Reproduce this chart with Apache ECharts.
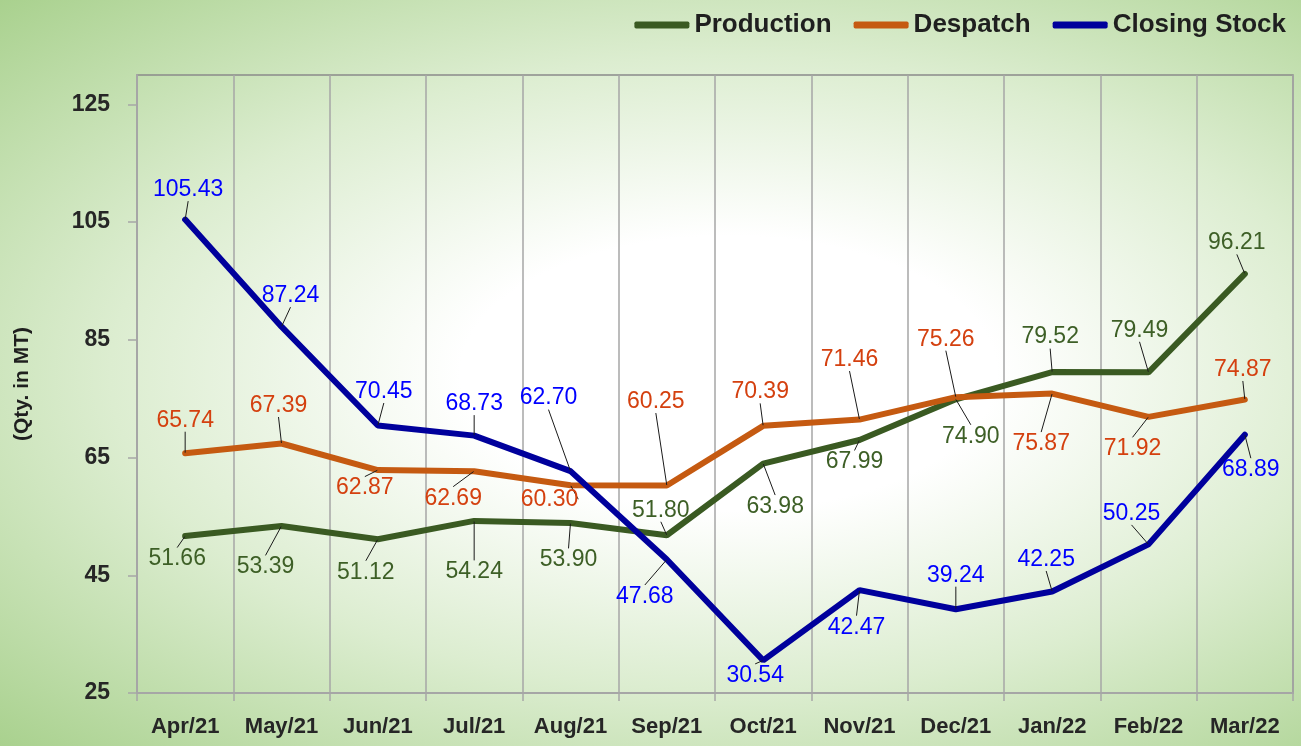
<!DOCTYPE html>
<html lang="en">
  <head>
    <meta charset="UTF-8" />
    <title>Production, Despatch and Closing Stock</title>
    <script src="https://cdn.jsdelivr.net/npm/echarts@6/dist/echarts.min.js"></script>
    <style>
      html,
      body {
        margin: 0;
        padding: 0;
      }
      #main {
        width: 1301px;
        height: 746px;
        background: radial-gradient(ellipse at 56% 50%, #ffffff 0%, #ffffff 26%, #dcedd0 60%, #a9d18e 100%);
      }
    </style>
  </head>
  <body>
    <div id="main"></div>
    <script>
      // data
      var months = ["Apr/21", "May/21", "Jun/21", "Jul/21", "Aug/21", "Sep/21", "Oct/21", "Nov/21", "Dec/21", "Jan/22", "Feb/22", "Mar/22"];
      var production = [51.66, 53.39, 51.12, 54.24, 53.9, 51.8, 63.98, 67.99, 74.9, 79.52, 79.49, 96.21];
      var despatch = [65.74, 67.39, 62.87, 62.69, 60.3, 60.25, 70.39, 71.46, 75.26, 75.87, 71.92, 74.87];
      var closingStock = [105.43, 87.24, 70.45, 68.73, 62.7, 47.68, 30.54, 42.47, 39.24, 42.25, 50.25, 68.89];
      var yTicks = [25, 45, 65, 85, 105, 125];

      // where each value label sits relative to its point [dx, dy]
      var prodLabelPos = [[-8, 23], [-16, 41], [-12, 33], [0, 51], [-2, 37], [-6, -25], [12, 43], [-5, 22], [15, 37], [-2, -35], [-9, -42], [-8, -31]];
      var despLabelPos = [[0, -33], [-3, -38], [-13, 18], [-21, 27], [-21, 14], [-11, -84], [-3, -34], [-10, -60], [-10, -58], [-11, 50], [-16, 32], [-2, -30]];
      var stockLabelPos = [[3, -30], [9, -31], [6, -34], [0, -32], [-22, -73], [-22, 37], [-8, 15], [-3, 37], [0, -34], [-6, -32], [-17, -31], [6, 35]];

      var font = "'Liberation Sans', Arial, sans-serif";

      function makeSeries(name, data, lineColor, labelColor, pos) {
        return {
          name: name,
          type: "line",
          data: data,
          symbol: "circle",
          symbolSize: 1,
          itemStyle: { color: lineColor },
          lineStyle: { color: lineColor, width: 6, cap: "round" },
          label: {
            show: true,
            position: "inside",
            color: labelColor,
            fontFamily: font,
            fontSize: 23,
            formatter: function (p) {
              return p.value.toFixed(2);
            },
          },
          labelLine: {
            show: true,
            lineStyle: { color: "#1a1a1a", width: 1 },
          },
          labelLayout: function (p) {
            return { dx: pos[p.dataIndex][0], dy: pos[p.dataIndex][1] };
          },
        };
      }

      var myChart = echarts.init(document.getElementById("main"));
      var option = {
        backgroundColor: "transparent",
        animation: false,
        legend: {
          top: 7,
          right: 10,
          icon: "roundRect",
          itemWidth: 55,
          itemHeight: 7,
          itemGap: 22,
          textStyle: {
            fontFamily: font,
            fontWeight: "bold",
            fontSize: 26,
            color: "#1f1f1f",
          },
          data: ["Production", "Despatch", "Closing Stock"],
        },
        grid: {
          left: 137,
          right: 8,
          top: 75,
          bottom: 53,
          show: true,
          borderColor: "#8a8a8a",
          borderWidth: 1.5,
        },
        xAxis: {
          type: "category",
          data: months,
          boundaryGap: true,
          axisLine: { lineStyle: { color: "#a6a6a6", width: 2 } },
          axisTick: { show: true, interval: 0, length: 8, lineStyle: { color: "#a6a6a6", width: 1.5 } },
          splitLine: { show: true, interval: 0, lineStyle: { color: "#a6a6a6", width: 1.5 } },
          axisLabel: {
            interval: 0,
            margin: 23,
            fontFamily: font,
            fontWeight: "bold",
            fontSize: 22,
            color: "#262626",
          },
        },
        yAxis: {
          type: "value",
          min: 25,
          max: 130,
          name: "(Qty. in MT)",
          nameLocation: "middle",
          nameRotate: 90,
          nameGap: 104,
          nameTextStyle: {
            fontFamily: font,
            fontWeight: "bold",
            fontSize: 21,
            color: "#1f1f1f",
          },
          axisLine: { show: true, lineStyle: { color: "#a6a6a6", width: 2 } },
          axisTick: { show: true, length: 9, customValues: yTicks, lineStyle: { color: "#a6a6a6", width: 1.5 } },
          splitLine: { show: false },
          axisLabel: {
            margin: 27,
            customValues: yTicks,
            fontFamily: font,
            fontWeight: "bold",
            fontSize: 23,
            color: "#262626",
          },
        },
        series: [
          makeSeries("Production", production, "#3a5a22", "#3d5f26", prodLabelPos),
          makeSeries("Despatch", despatch, "#c55a11", "#d4400f", despLabelPos),
          makeSeries("Closing Stock", closingStock, "#00009c", "#0000ff", stockLabelPos),
        ],
      };
      myChart.setOption(option);
    </script>
  </body>
</html>
